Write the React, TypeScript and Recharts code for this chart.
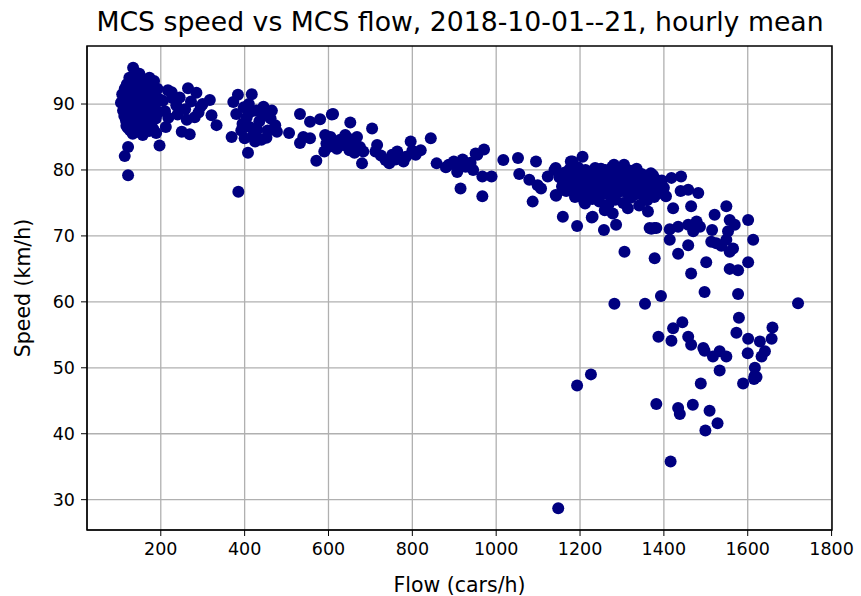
import { ScatterChart, Scatter, XAxis, YAxis, CartesianGrid, ReferenceArea } from 'recharts';

// hourly means, grouped by region of the cloud: [flow cars/h, speed km/h]
const nightCluster: [number, number][] = [
    [134, 95.5], [114, 82.1], [122, 79.2], [122, 83.5], [197, 83.7],
    [105, 90.2], [108, 91.5], [110, 89.0], [113, 88.2], [114, 92.3], [116, 90.8], [117, 87.5],
    [119, 93.0], [120, 89.6], [121, 86.4], [122, 91.9], [124, 88.7], [125, 94.0], [126, 90.1],
    [127, 86.0], [129, 92.7], [129, 89.2], [131, 87.3], [132, 93.6], [133, 91.0], [133, 85.5],
    [135, 88.4], [136, 94.3], [137, 90.6], [138, 86.9], [139, 92.2], [141, 89.8], [141, 87.9],
    [143, 93.1], [144, 85.8], [145, 91.4], [146, 88.9], [148, 90.0], [149, 94.6], [150, 86.5],
    [151, 92.5], [152, 89.4], [154, 87.6], [155, 91.2], [156, 93.8], [157, 85.3], [158, 88.0],
    [160, 90.7], [161, 92.9], [162, 86.8], [163, 89.5], [165, 91.6], [166, 93.3], [167, 87.2],
    [168, 88.6], [170, 90.4], [171, 92.1], [172, 85.9], [173, 94.0], [175, 89.1], [176, 91.1],
    [177, 87.0], [178, 90.9], [180, 92.6], [181, 88.3], [182, 86.2], [184, 93.5], [185, 89.9],
    [186, 91.8], [188, 87.8], [189, 85.6], [190, 90.3], [192, 92.3], [193, 88.8], [118, 86.7],
    [127, 91.3], [140, 89.3], [153, 93.0], [164, 87.4], [174, 90.6], [187, 88.1], [147, 92.0],
    [130, 86.3], [159, 89.7], [169, 91.0], [183, 87.9], [195, 90.8], [111, 90.6], [123, 92.4],
    [142, 88.0], [158, 86.1], [179, 89.0], [191, 88.5],
];

const eveningSpread: [number, number][] = [
    [217, 92.1], [265, 92.4], [285, 91.7], [317, 90.6], [321, 88.3], [333, 86.8], [250, 85.8],
    [269, 85.4], [218, 87.9], [281, 88.0], [237, 89.8], [228, 90.9], [245, 91.0], [258, 89.2],
    [205, 90.5], [210, 88.9], [272, 90.4], [295, 89.6], [240, 88.4], [262, 87.6], [300, 90.0],
    [212, 86.5], [226, 91.8], [290, 88.7],
    [384, 91.4], [417, 91.5], [373, 90.3], [369, 85.0], [408, 82.6], [385, 76.7], [473, 86.8],
    [477, 85.8], [398, 89.5], [405, 88.0], [412, 86.5], [420, 85.2], [428, 89.0], [435, 87.4],
    [440, 84.6], [448, 88.3], [455, 86.0], [462, 87.8], [425, 84.3], [395, 87.0], [410, 90.0],
    [445, 89.6], [380, 88.5], [392, 86.0], [430, 86.1], [417, 88.9], [400, 84.8], [452, 84.9],
    [465, 89.0],
];

const shoulderRamp: [number, number][] = [
    [506, 85.6], [532, 88.5], [556, 87.3], [580, 87.7], [608, 88.4], [540, 85.0], [532, 84.1],
    [556, 84.8], [571, 81.4], [592, 85.3], [595, 84.0], [590, 82.8], [600, 83.5], [616, 84.2],
    [611, 88.5], [652, 87.2], [704, 86.3], [620, 83.2], [628, 84.6], [635, 83.8], [645, 84.9],
    [650, 83.0], [660, 84.3], [668, 85.0], [675, 83.5], [683, 82.8], [680, 81.0], [640, 85.3],
    [605, 85.0], [662, 82.6],
    [716, 83.8], [712, 82.8], [736, 81.5], [752, 82.3], [764, 82.8], [779, 81.3], [796, 84.3],
    [808, 82.3], [820, 83.0], [844, 84.8], [858, 81.0], [887, 80.8], [899, 81.3], [911, 80.5],
    [907, 79.7], [915, 77.2], [927, 80.5], [939, 81.1], [955, 82.3], [967, 79.0], [967, 76.0],
    [971, 83.1], [951, 82.5], [989, 79.0], [745, 81.0], [760, 81.6], [785, 82.0], [725, 82.2],
    [800, 82.9], [880, 80.4], [920, 81.6], [945, 80.0],
    [1017, 81.5], [1052, 81.8], [1095, 81.3], [1055, 79.4], [1079, 78.5], [1099, 77.7],
    [1107, 77.2], [1087, 75.2], [1143, 76.1], [1123, 79.0], [1139, 80.0], [1178, 81.3],
];

const dayCluster: [number, number][] = [
    [1206, 82.0], [1182, 81.3], [1142, 80.3], [1281, 80.8], [1305, 80.8], [1369, 79.5],
    [1250, 80.2], [1230, 79.8], [1335, 80.2], [1142, 76.2], [1210, 75.2], [1259, 73.9],
    [1278, 73.4], [1314, 74.2], [1362, 73.7],
    [1151, 78.9], [1157, 77.5], [1164, 79.6], [1167, 76.8], [1173, 78.2], [1175, 80.1],
    [1181, 77.1], [1186, 79.2], [1188, 75.9], [1193, 78.6], [1195, 80.4], [1200, 76.5],
    [1202, 79.0], [1208, 77.8], [1212, 74.9], [1213, 80.0], [1218, 78.3], [1221, 76.2],
    [1222, 79.5], [1227, 77.4], [1229, 75.6], [1233, 78.8], [1236, 80.3], [1237, 76.9],
    [1242, 78.0], [1245, 79.7], [1246, 75.2], [1251, 77.6], [1254, 78.9], [1255, 76.4],
    [1260, 80.0], [1263, 77.2], [1266, 79.1], [1268, 74.8], [1272, 78.5], [1273, 76.0],
    [1277, 80.5], [1279, 77.9], [1284, 75.5], [1287, 79.3], [1288, 78.1], [1293, 76.7],
    [1296, 80.2], [1297, 77.3], [1302, 78.7], [1303, 75.0], [1308, 79.6], [1311, 76.6],
    [1312, 78.4], [1317, 77.0], [1320, 79.9], [1321, 75.8], [1326, 78.2], [1329, 77.4],
    [1330, 79.0], [1333, 76.3], [1338, 78.6], [1341, 74.6], [1342, 77.7], [1347, 79.4],
    [1350, 76.1], [1351, 78.0], [1356, 77.2], [1359, 79.1], [1360, 75.4], [1365, 78.3],
    [1368, 76.8], [1371, 77.9], [1374, 79.2], [1377, 75.9], [1380, 78.6], [1383, 77.1],
    [1385, 76.4], [1391, 78.3], [1395, 78.4], [1400, 77.3], [1418, 78.8], [1441, 79.0],
    [1458, 77.0], [1482, 76.5], [1465, 74.5], [1422, 74.2], [1440, 76.8], [1405, 76.0],
    [1160, 78.0], [1190, 77.0], [1215, 78.9], [1240, 77.2], [1262, 78.4], [1290, 77.6],
    [1318, 78.9], [1345, 78.2], [1372, 78.0], [1225, 76.8], [1285, 76.4], [1336, 77.0],
];

const spreadBand: [number, number][] = [
    [1521, 73.2], [1549, 74.5], [1557, 72.4], [1569, 71.7], [1601, 72.4], [1366, 71.2],
    [1377, 71.2], [1414, 71.0], [1434, 71.4], [1458, 71.7], [1478, 72.2], [1486, 71.4],
    [1470, 70.7], [1515, 70.9], [1553, 70.7], [1414, 69.4], [1458, 68.6], [1513, 69.1],
    [1525, 68.9], [1537, 68.5], [1549, 69.4], [1557, 67.6], [1565, 68.1], [1613, 69.4],
    [1378, 66.6], [1434, 67.3], [1501, 66.0], [1601, 66.0], [1557, 65.0], [1577, 64.8],
    [1465, 64.3], [1306, 67.6], [1286, 71.7], [1257, 70.9], [1228, 72.8], [1193, 71.5],
    [1159, 72.9], [1370, 71.1], [1382, 71.2], [1230, 72.9],
];

const congested: [number, number][] = [
    [1497, 61.5], [1577, 61.2], [1393, 60.9], [1355, 59.7], [1282, 59.7], [1720, 59.8],
    [1579, 57.6], [1444, 56.9], [1422, 56.0], [1387, 54.7], [1418, 54.1], [1458, 54.7],
    [1465, 53.5], [1573, 55.3], [1601, 54.4], [1629, 54.0], [1659, 56.1], [1657, 54.4],
    [1494, 53.0], [1497, 52.6], [1533, 52.5], [1517, 51.7], [1549, 51.7], [1600, 52.2],
    [1641, 52.5], [1633, 51.7], [1533, 49.6], [1617, 50.0], [1616, 48.7], [1488, 47.6],
    [1589, 47.6], [1615, 48.3], [1621, 48.6], [1382, 44.5], [1434, 43.9], [1438, 43.0],
    [1469, 44.4], [1509, 43.5], [1528, 41.6], [1499, 40.5], [1416, 35.8], [1148, 28.7],
    [1226, 49.0], [1193, 47.3],
];

const xTicks = [200, 400, 600, 800, 1000, 1200, 1400, 1600, 1800];
const yTicks = [30, 40, 50, 60, 70, 80, 90];

const points = [...nightCluster, ...eveningSpread, ...shoulderRamp, ...dayCluster, ...spreadBand, ...congested]
    .map(([flow, speed]) => ({ flow, speed }));

const font = '"DejaVu Sans", sans-serif';
const tickStyle = { fill: '#000', fontSize: 17.5, fontFamily: font };
const labelStyle = { fill: '#000', fontSize: 20.5, fontFamily: font };

const Dot = (props: any) => <circle cx={props.cx} cy={props.cy} r={6} fill="#000080" />;

export default function App() {
    return (
        <div style={{ position: 'absolute', left: 0, top: 0, width: 861, height: 596, background: '#fff', fontFamily: font }}>
            <div style={{ position: 'absolute', left: 60, width: 800, top: 6, textAlign: 'center', fontSize: 26.7, color: '#000', whiteSpace: 'nowrap' }}>
                MCS speed vs MCS flow, 2018-10-01--21, hourly mean
            </div>
            <ScatterChart width={861} height={596} margin={{ top: 46, right: 29, left: 0, bottom: 0 }}>
                <CartesianGrid stroke="#b0b0b0" strokeWidth={1.3} horizontalValues={yTicks} verticalValues={xTicks} />
                <XAxis
                    type="number"
                    dataKey="flow"
                    domain={[24, 1801]}
                    ticks={xTicks}
                    height={66}
                    tick={tickStyle}
                    tickSize={6}
                    tickMargin={7}
                    stroke="#000"
                    label={{ value: 'Flow (cars/h)', position: 'insideBottom', offset: 4, style: labelStyle }}
                />
                <YAxis
                    type="number"
                    dataKey="speed"
                    domain={[25.4, 98.8]}
                    ticks={yTicks}
                    width={87}
                    tick={tickStyle}
                    tickSize={6}
                    tickMargin={6}
                    stroke="#000"
                    label={{ value: 'Speed (km/h)', angle: -90, position: 'center', dx: -21, style: labelStyle }}
                />
                <ReferenceArea x1={24} x2={1801} y1={25.4} y2={98.8} fill="none" stroke="#000" strokeWidth={1.5} />
                <Scatter data={points} shape={<Dot />} isAnimationActive={false} />
            </ScatterChart>
        </div>
    );
}
